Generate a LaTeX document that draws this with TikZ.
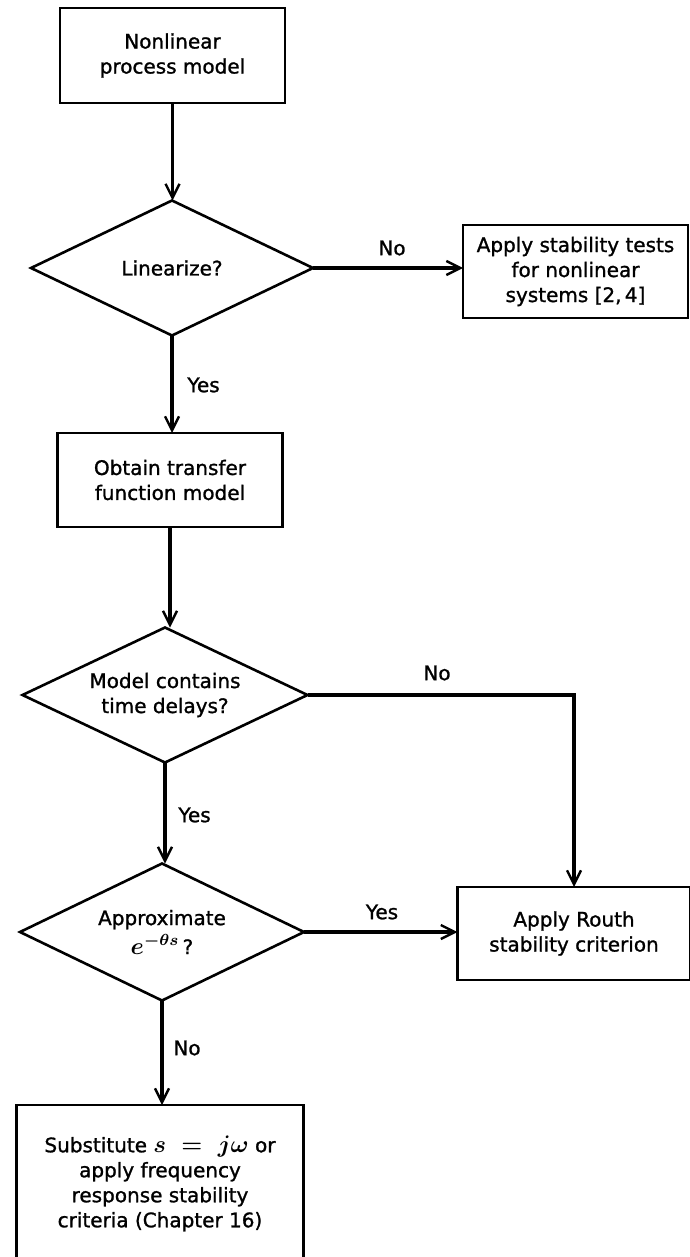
\documentclass[tikz,border=0pt]{standalone}
\usepackage{fontspec}
\setmainfont{DejaVu Sans}[BoldFont=DejaVu Sans, BoldFeatures={FakeBold=1.2}]
\usetikzlibrary{shapes.geometric,arrows.meta}
\newcommand{\mth}[1]{{\fontsize{12}{12}\selectfont\boldmath$#1$}}
\begin{document}
\begin{tikzpicture}[x=0.5pt,y=-0.5pt,
  every node/.style={font=\fontsize{10}{12.5}\selectfont\bfseries},
  box/.style={draw, line width=1.4pt, align=center, inner sep=0pt, outer sep=0pt},
  dec/.style={draw, diamond, line width=1.3pt, align=center, inner sep=0pt, outer sep=0pt, aspect=2},
  flow/.style={line width=1.8pt, -{Straight Barb[length=7pt,width=7pt,line width=1.2pt]}},
  lbl/.style={inner sep=1pt}
]
\useasboundingbox (0,0) rectangle (690,1257);

\node[box, minimum width=112.5pt, minimum height=47.5pt] (b1) at (172.5,55.5) {Nonlinear\\process model};
\node[dec, minimum width=141pt, minimum height=67.5pt] (d1) at (172,268) {Linearize?};
\node[box, minimum width=112.5pt, minimum height=46.5pt] (b2) at (575.5,271.5) {Apply stability tests\\for nonlinear\\systems [2,\,4]};
\node[box, minimum width=112.5pt, minimum height=47pt] (b3) at (170,480) {Obtain transfer\\function model};
\node[dec, minimum width=142.5pt, minimum height=67.5pt] (d2) at (165,695) {Model contains\\time delays?};
\node[dec, minimum width=142pt, minimum height=68.5pt] (d3) at (162,932) {Approximate\\[2pt]\mth{e^{-\theta s}}\,?};
\node[box, minimum width=116.5pt, minimum height=46.5pt] (b4) at (574,933.5) {Apply Routh\\stability criterion};
\node[box, minimum width=143.5pt, minimum height=78.5pt] (b5) at (160,1183.5) {Substitute \mth{s\;=\;j\omega} or\\apply frequency\\response stability\\criteria (Chapter 16)};

\draw[flow] (b1.south) -- (b1.south |- d1.north);
\draw[flow] (d1.east) -- (d1.east -| b2.west);
\draw[flow] (d1.south) -- (d1.south |- b3.north);
\draw[flow] (b3.south) -- (b3.south |- d2.north);
\draw[flow] (d2.east) -| (b4.north);
\draw[flow] (d2.south) -- (d2.south |- d3.north);
\draw[flow] (d3.east) -- (d3.east -| b4.west);
\draw[flow] (d3.south) -- (d3.south |- b5.north);

\node[lbl] (l1) at (392,248) {No};
\node[lbl, anchor=west] (l2) at (185,385) {Yes};
\node[lbl] (l3) at (437,673) {No};
\node[lbl, anchor=west] (l4) at (176,815) {Yes};
\node[lbl] (l5) at (382,912) {Yes};
\node[lbl, anchor=west] (l6) at (171,1048) {No};
\end{tikzpicture}
\end{document}
